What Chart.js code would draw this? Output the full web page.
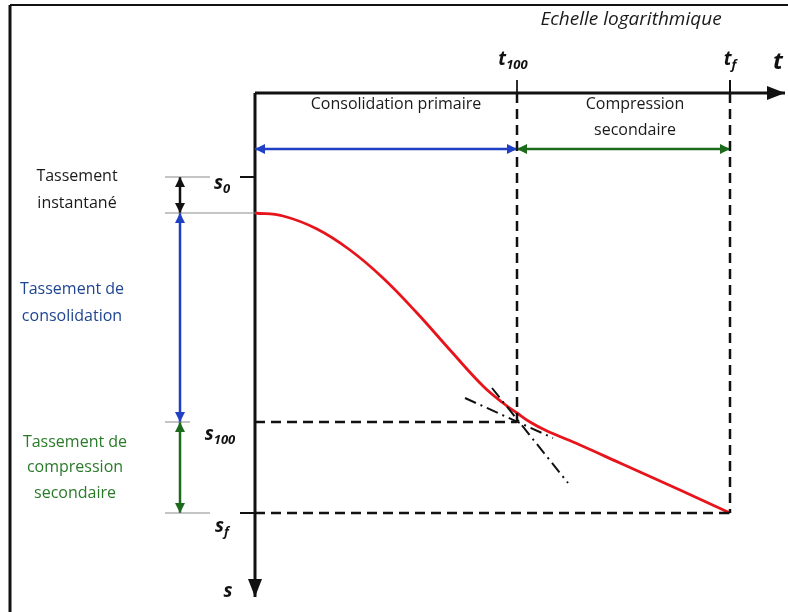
<!DOCTYPE html>
<html lang="fr">
<head>
<meta charset="UTF-8" />
<title>Tassement - consolidation</title>
<script src="https://cdn.jsdelivr.net/npm/chart.js"></script>
<style>
  html, body { margin: 0; padding: 0; background: #fff; }
  canvas { display: block; }
</style>
</head>
<body>
<canvas id="chart" width="788" height="612"></canvas>
<script>
  // repères (t en échelle log, s vers le bas)
  const T100 = 262;
  const TF = 475;
  const S0 = 84;
  const SI = 120;
  const S100 = 329;
  const SF = 420;

  // courbe de tassement
  const curveT = [0, 28, 62, 95, 128, 162, 195, 228, 248, 262, 275, 290, 325, 365, 425, 475];
  const curveS = [120, 123, 136, 157, 185, 220, 257, 293, 310, 320, 329, 337, 352, 370, 397, 420];

  // tangentes (construction de Casagrande)
  const tangentSteepT = [237, 313];
  const tangentSteepS = [295, 390];
  const tangentFlatT = [210, 298];
  const tangentFlatS = [305, 345];

  const BLUE = '#1f3fc4';
  const GREEN = '#1c6b1c';
  const RED = '#e8141c';
  const FONT = '16px "Open Sans"';

  function pts(xs, ys) {
    return xs.map((x, i) => ({ x: x, y: ys[i] }));
  }

  function seg(x1, y1, x2, y2, style) {
    return Object.assign({
      data: [{ x: x1, y: y1 }, { x: x2, y: y2 }],
      showLine: true,
      pointRadius: 0,
      borderColor: '#111',
      borderWidth: 2,
      fill: false
    }, style || {});
  }

  const dashed = { borderDash: [10, 6], borderWidth: 2.5 };
  const dashDot = { borderDash: [12, 5, 2, 5], borderWidth: 2 };
  const grey = { borderColor: '#8a8a8a', borderWidth: 1 };

  const datasets = [
    // cadre
    seg(-245, -88, -245, 519, { borderWidth: 3 }),
    seg(-245, -88, 533, -88, { borderWidth: 2 }),
    // lignes grises de rappel
    seg(-90, S0, -45, S0, grey),
    seg(-90, SI, 0, SI, grey),
    seg(-90, S100, -65, S100, grey),
    seg(-90, SF, -45, SF, grey),
    // pointillés
    seg(T100, 0, T100, S100, dashed),
    seg(TF, 0, TF, SF, dashed),
    seg(0, S100, T100, S100, dashed),
    seg(0, SF, TF, SF, dashed),
    // graduations
    seg(T100, -13, T100, 0, { borderWidth: 1 }),
    seg(TF, -13, TF, 0, { borderWidth: 2 }),
    seg(-15, S0, 0, S0, { borderWidth: 2 }),
    seg(-15, SF, 6, SF, { borderWidth: 2 }),
    // tangentes
    seg(tangentSteepT[0], tangentSteepS[0], tangentSteepT[1], tangentSteepS[1], dashDot),
    seg(tangentFlatT[0], tangentFlatS[0], tangentFlatT[1], tangentFlatS[1], dashDot),
    // courbe
    {
      data: pts(curveT, curveS),
      showLine: true,
      pointRadius: 0,
      borderColor: RED,
      borderWidth: 2.8,
      tension: 0.4,
      fill: false
    },
    // flèches
    seg(0, 56, T100, 56, { borderColor: BLUE, borderWidth: 2.5, arrow: 'both' }),
    seg(T100, 56, TF, 56, { borderColor: GREEN, borderWidth: 2.5, arrow: 'both' }),
    seg(-75, S0, -75, SI, { borderColor: '#111', borderWidth: 2.5, arrow: 'both' }),
    seg(-75, SI, -75, S100, { borderColor: BLUE, borderWidth: 2.5, arrow: 'both' }),
    seg(-75, S100, -75, SF, { borderColor: GREEN, borderWidth: 2.5, arrow: 'both' }),
    // axes
    seg(0, 0, 530, 0, { borderWidth: 3, arrow: 'end', head: [18, 7] }),
    seg(0, 0, 0, 504, { borderWidth: 3, arrow: 'end', head: [18, 7] })
  ];

  // textes : [texte, t, s, couleur, police, indice]
  const labels = [
    ['Echelle logarithmique', 376, -73, '#1a1a1a', 'italic 19px "Open Sans"'],
    ['Consolidation primaire', 141, 11, '#1a1a1a', FONT],
    ['Compression', 380, 11, '#1a1a1a', FONT],
    ['secondaire', 380, 37, '#1a1a1a', FONT],
    ['Tassement', -178, 83, '#1a1a1a', FONT],
    ['instantané', -178, 110, '#1a1a1a', FONT],
    ['Tassement de', -183, 196, '#1f4590', FONT],
    ['consolidation', -183, 223, '#1f4590', FONT],
    ['Tassement de', -180, 349, '#2a7a2a', FONT],
    ['compression', -180, 374, '#2a7a2a', FONT],
    ['secondaire', -180, 400, '#2a7a2a', FONT],
    ['t', 523, -31, '#111', 'bold italic 24px "Open Sans"'],
    ['t', 258, -33, '#111', 'bold italic 19px "Open Sans"', '100'],
    ['t', 475, -33, '#111', 'bold italic 19px "Open Sans"', 'f'],
    ['s', -33, 91, '#111', 'bold italic 19px "Open Sans"', '0'],
    ['s', -35, 342, '#111', 'bold italic 19px "Open Sans"', '100'],
    ['s', -33, 434, '#111', 'bold italic 19px "Open Sans"', 'f'],
    ['s', -27, 499, '#111', 'bold italic 19px "Open Sans"']
  ];

  const diagramPlugin = {
    id: 'diagram',
    afterDatasetsDraw(chart) {
      const ctx = chart.ctx;
      const xs = chart.scales.x;
      const ys = chart.scales.y;

      // pointes de flèches
      chart.data.datasets.forEach((ds, i) => {
        if (!ds.arrow) return;
        const pts = chart.getDatasetMeta(i).data;
        const a = pts[0], b = pts[pts.length - 1];
        const head = ds.head || [10, 5];
        const drawHead = (tip, from) => {
          const ang = Math.atan2(tip.y - from.y, tip.x - from.x);
          ctx.save();
          ctx.translate(tip.x, tip.y);
          ctx.rotate(ang);
          ctx.beginPath();
          ctx.moveTo(0, 0);
          ctx.lineTo(-head[0], -head[1]);
          ctx.lineTo(-head[0], head[1]);
          ctx.closePath();
          ctx.fillStyle = ds.borderColor;
          ctx.fill();
          ctx.restore();
        };
        if (ds.arrow === 'end' || ds.arrow === 'both') drawHead(b, a);
        if (ds.arrow === 'start' || ds.arrow === 'both') drawHead(a, b);
      });

      // textes
      ctx.save();
      ctx.textBaseline = 'middle';
      labels.forEach(([txt, t, s, color, font, sub]) => {
        const px = xs.getPixelForValue(t);
        const py = ys.getPixelForValue(s);
        ctx.fillStyle = color;
        ctx.font = font;
        const w = ctx.measureText(txt).width;
        if (!sub) {
          ctx.textAlign = 'center';
          ctx.fillText(txt, px, py);
          return;
        }
        const subFont = 'bold italic 13px "Open Sans"';
        ctx.font = subFont;
        const sw = ctx.measureText(sub).width;
        const x0 = px - (w + sw) / 2;
        ctx.textAlign = 'left';
        ctx.font = font;
        ctx.fillText(txt, x0, py);
        ctx.font = subFont;
        ctx.fillText(sub, x0 + w, py + 5);
      });
      ctx.restore();
    }
  };

  new Chart(document.getElementById('chart'), {
    type: 'scatter',
    data: { datasets: datasets },
    options: {
      responsive: false,
      animation: false,
      events: [],
      layout: { padding: 0 },
      plugins: { legend: { display: false }, tooltip: { enabled: false } },
      scales: {
        x: { type: 'linear', display: false, min: -255, max: 533 },
        y: { type: 'linear', display: false, min: -93, max: 519, reverse: true }
      }
    },
    plugins: [diagramPlugin]
  });
</script>
</body>
</html>
